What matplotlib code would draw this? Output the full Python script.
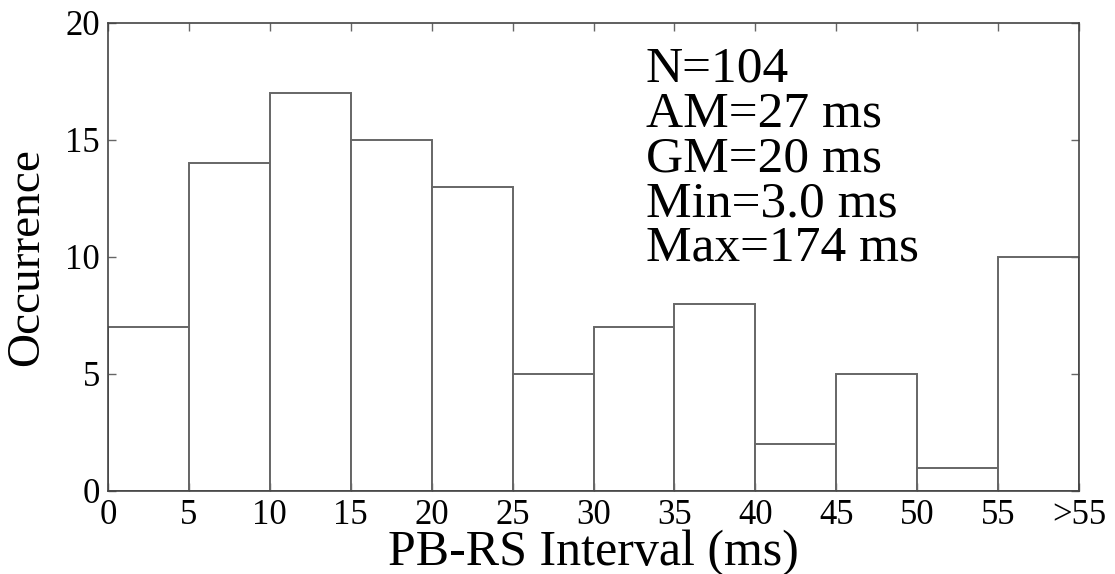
import matplotlib
matplotlib.use('Agg')
import matplotlib.pyplot as plt

# histogram of PB-RS intervals, 5 ms bins, last bin is everything > 55 ms
bin_edges = [0, 5, 10, 15, 20, 25, 30, 35, 40, 45, 50, 55, 60]
counts = [7, 14, 17, 15, 13, 5, 7, 8, 2, 5, 1, 10]
tick_labels = ['0', '5', '10', '15', '20', '25', '30', '35', '40', '45', '50', '55', '>55']
stats_lines = ['N=104', 'AM=27 ms', 'GM=20 ms', 'Min=3.0 ms', 'Max=174 ms']

plt.rcParams['font.family'] = ['Liberation Serif', 'DejaVu Serif']

fig = plt.figure(figsize=(11.15, 5.74), dpi=100)
ax = fig.add_axes([0.0969, 0.1446, 0.8708, 0.8154])

ax.bar(bin_edges[:-1], counts, width=5, align='edge',
       color='white', edgecolor='#666666', linewidth=1.4)

ax.set_xlim(0, 60)
ax.set_ylim(0, 20)
ax.set_xticks(bin_edges)
ax.set_xticklabels(tick_labels)
ax.set_yticks([0, 5, 10, 15, 20])

ax.tick_params(direction='in', length=6, width=1, color='#666666',
               top=True, right=True, labelsize=25)
ax.tick_params(axis='x', pad=6)
ax.tick_params(axis='y', pad=6)
for s in ax.spines.values():
    s.set_color('#444444')
    s.set_linewidth(1.2)

ax.set_xlabel('PB-RS Interval (ms)', fontsize=36, labelpad=-2)
ax.set_ylabel('Occurrence', fontsize=34, labelpad=12)

ax.text(0.554, 0.95, '\n'.join(stats_lines), transform=ax.transAxes,
        fontsize=37, va='top', ha='left', linespacing=0.95)

fig.savefig('out.png', dpi=100)
